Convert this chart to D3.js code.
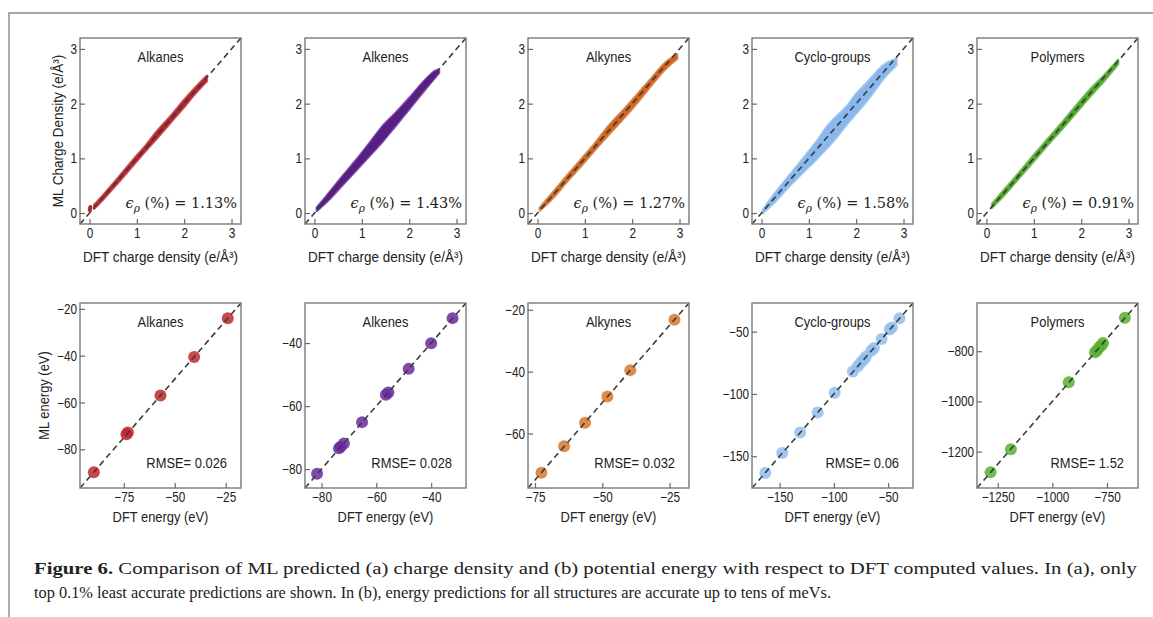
<!DOCTYPE html>
<html>
<head>
<meta charset="utf-8">
<script src="https://cdn.jsdelivr.net/npm/d3@7"></script>
<style>
    body { margin: 0; background: #fff; }
    svg text { font-family: "Liberation Sans Narrow", "Arial Narrow", "Liberation Sans", sans-serif; fill: #222; }
</style>
</head>
<body>
<svg id="my-svg"></svg>
<script>
// ---------------- data ----------------
const groups = ["Alkanes", "Alkenes", "Alkynes", "Cyclo-groups", "Polymers"];
const errorLabels = ["1.13%", "1.43%", "1.27%", "1.58%", "0.91%"];
const rmseLabels = ["0.026", "0.028", "0.032", "0.06", "1.52"];

const chargeTicks = [0, 1, 2, 3];
const chargeDomain = [-0.2, 3.2];

// charge density bands: [DFT, ML low, ML high]
const alkanesBand = [[0.10, 0.08, 0.15], [0.3, 0.26, 0.34], [0.6, 0.55, 0.64], [0.9, 0.85, 0.95], [1.2, 1.15, 1.25], [1.4, 1.34, 1.47], [1.7, 1.64, 1.76], [2.0, 1.94, 2.07], [2.2, 2.15, 2.26], [2.48, 2.41, 2.51]];
const alkenesBand = [[0.05, 0.04, 0.10], [0.3, 0.24, 0.36], [0.6, 0.52, 0.68], [0.9, 0.80, 0.99], [1.2, 1.08, 1.32], [1.45, 1.32, 1.60], [1.7, 1.58, 1.82], [2.0, 1.90, 2.10], [2.3, 2.22, 2.40], [2.55, 2.48, 2.60], [2.63, 2.56, 2.62]];
const alkynesBand = [[0.05, 0.05, 0.10], [0.3, 0.25, 0.35], [0.6, 0.55, 0.66], [0.9, 0.84, 0.96], [1.2, 1.14, 1.26], [1.5, 1.43, 1.59], [1.8, 1.71, 1.87], [2.1, 2.01, 2.16], [2.4, 2.33, 2.46], [2.7, 2.63, 2.75], [2.95, 2.82, 2.90]];
const cycloBand = [[0.03, 0.00, 0.06], [0.3, 0.22, 0.38], [0.6, 0.50, 0.70], [0.9, 0.76, 1.02], [1.2, 1.02, 1.35], [1.4, 1.20, 1.60], [1.6, 1.40, 1.78], [1.8, 1.62, 1.95], [2.0, 1.82, 2.18], [2.2, 2.02, 2.36], [2.4, 2.25, 2.55], [2.6, 2.48, 2.72], [2.85, 2.70, 2.82]];
const polymersBand = [[0.12, 0.10, 0.17], [0.4, 0.35, 0.45], [0.7, 0.65, 0.75], [1.0, 0.95, 1.06], [1.3, 1.25, 1.36], [1.6, 1.54, 1.66], [1.9, 1.84, 1.97], [2.2, 2.14, 2.27], [2.5, 2.43, 2.53], [2.78, 2.72, 2.80]];
const alkanesOutliers = [[0.01, 0.05], [0.01, 0.09], [0.02, 0.11]];

// energies (eV)
const alkanesDft = [-89.7, -73.7, -73.0, -57.0, -40.5, -24.0];
const alkanesMl = [-89.8, -73.5, -72.8, -57.0, -40.6, -24.0];
const alkenesDft = [-81.6, -73.6, -73.0, -71.8, -65.2, -56.5, -55.6, -48.2, -40.0, -32.2];
const alkenesMl = [-81.5, -73.4, -72.9, -71.9, -65.1, -56.4, -55.7, -48.2, -40.1, -32.1];
const alkynesDft = [-72.6, -64.2, -56.4, -48.1, -39.6, -23.2];
const alkynesMl = [-72.7, -64.1, -56.5, -48.0, -39.5, -23.2];
const cycloDft = [-163.2, -147.6, -131.0, -115.0, -99.2, -82.5, -78.0, -75.2, -72.5, -70.4, -65.5, -63.0, -56.0, -48.5, -46.5, -39.5];
const cycloMl = [-163.4, -147.4, -130.9, -114.9, -99.0, -82.0, -77.8, -75.0, -72.6, -70.2, -65.3, -63.2, -55.9, -48.2, -46.6, -39.3];
const polymersDft = [-1283, -1190, -925, -805, -796, -786, -776, -768, -668];
const polymersMl = [-1282, -1191, -924, -804, -797, -785, -777, -767, -667];

const energyDomains = [[-96.5, -17.5], [-86, -27.3], [-77.6, -17.8], [-175.5, -27], [-1345, -608]];
const energyTicksX = [[-75, -50, -25], [-80, -60, -40], [-75, -50, -25], [-150, -100, -50], [-1250, -1000, -750]];
const energyTicksY = [[-20, -40, -60, -80], [-40, -60, -80], [-20, -40, -60], [-50, -100, -150], [-800, -1000, -1200]];

const topColors = ["#b8232b", "#5b1a8e", "#d0661f", "#8ab8ec", "#4ea82a"];
const bottomColors = ["#c1272d", "#6b2aa0", "#d9782b", "#92bdee", "#56b030"];

const captionLine1 = "Comparison of ML predicted (a) charge density and (b) potential energy with respect to DFT computed values. In (a), only";
const captionLine2 = "top 0.1% least accurate predictions are shown. In (b), energy predictions for all structures are accurate up to tens of meVs.";

// ---------------- layout ----------------
const width = 1153, height = 617;
const panelLeft = [80, 305, 528, 752, 977];
const panelWidth = 161;
const topRow = { top: 38, height: 186 };
const bottomRow = { top: 303, height: 185 };
const narrowFactor = 0.86;

const bands = [alkanesBand, alkenesBand, alkynesBand, cycloBand, polymersBand];
const energyData = [
    [alkanesDft, alkanesMl], [alkenesDft, alkenesMl], [alkynesDft, alkynesMl],
    [cycloDft, cycloMl], [polymersDft, polymersMl]
];

const svg = d3.select("#my-svg")
    .attr("width", width)
    .attr("height", height)
    .style("display", "block");

svg.append("rect").attr("width", width).attr("height", height).attr("fill", "#fff");

// figure frame (top and left rules)
svg.append("path")
    .attr("d", `M9,${height} L9,13 L${width},13`)
    .attr("fill", "none")
    .attr("stroke", "#8a8a8a")
    .attr("stroke-width", 1.4);

// squeeze a sans text to look like the condensed face of the original
function narrow(sel, f) {
    sel.each(function () {
        const len = this.getComputedTextLength();
        d3.select(this)
            .attr("textLength", len * (f || narrowFactor))
            .attr("lengthAdjust", "spacingAndGlyphs");
    });
    return sel;
}

function drawAxes(g, x, y, xt, yt, h) {
    const fmt = d3.format("d");
    const ax = g.append("g")
        .attr("transform", `translate(0,${h})`)
        .call(d3.axisBottom(x).tickValues(xt).tickFormat(fmt).tickSizeInner(-5).tickSizeOuter(0).tickPadding(4));
    const ay = g.append("g")
        .call(d3.axisLeft(y).tickValues(yt).tickFormat(fmt).tickSizeInner(-5).tickSizeOuter(0).tickPadding(3));
    [ax, ay].forEach(a => {
        a.select(".domain").remove();
        a.selectAll("line").attr("stroke", "#6a6a6a").attr("stroke-width", 1.2);
        a.selectAll("text").style("font-size", "14px").attr("fill", "#222");
        narrow(a.selectAll("text"), 0.84);
    });
}

function drawBox(g, w, h) {
    g.append("rect")
        .attr("width", w)
        .attr("height", h)
        .attr("fill", "none")
        .attr("stroke", "#7a7a7a")
        .attr("stroke-width", 1.4);
}

function drawDiagonal(g, x, y, dom) {
    g.append("line")
        .attr("x1", x(dom[0])).attr("y1", y(dom[0]))
        .attr("x2", x(dom[1])).attr("y2", y(dom[1]))
        .attr("stroke", "#3c3c3c")
        .attr("stroke-width", 1.6)
        .attr("stroke-dasharray", "6,4");
}

// ---------------- top row: charge density ----------------
groups.forEach((name, i) => {
    const w = panelWidth, h = topRow.height;
    const g = svg.append("g").attr("transform", `translate(${panelLeft[i]},${topRow.top})`);
    const x = d3.scaleLinear().domain(chargeDomain).range([0, w]);
    const y = d3.scaleLinear().domain(chargeDomain).range([h, 0]);

    const area = d3.area()
        .x(d => x(d[0]))
        .y0(d => y(d[1]))
        .y1(d => y(d[2]))
        .curve(d3.curveCatmullRom);

    g.append("path")
        .datum(bands[i])
        .attr("d", area)
        .attr("fill", topColors[i])
        .attr("stroke", topColors[i])
        .attr("stroke-width", 2.5)
        .attr("stroke-linejoin", "round")
        .attr("stroke-opacity", 0.75);

    if (i === 0) {
        g.selectAll(".outlier")
            .data(alkanesOutliers)
            .enter().append("circle")
            .attr("cx", d => x(d[0]))
            .attr("cy", d => y(d[1]))
            .attr("r", 2)
            .attr("fill", topColors[i]);
    }

    drawDiagonal(g, x, y, chargeDomain);
    drawBox(g, w, h);
    drawAxes(g, x, y, chargeTicks, chargeTicks, h);

    narrow(g.append("text")
        .attr("x", w / 2).attr("y", 24)
        .attr("text-anchor", "middle")
        .style("font-size", "15px")
        .text(name));

    const eps = g.append("text")
        .attr("x", w - 4).attr("y", 170)
        .attr("text-anchor", "end")
        .style("font-family", "'DejaVu Serif', serif")
        .style("font-size", "14.5px");
    eps.append("tspan").style("font-style", "italic").text("ϵ");
    eps.append("tspan").attr("dy", 4).style("font-style", "italic").style("font-size", "10.5px").text("ρ");
    eps.append("tspan").attr("dy", -4).text(" (%) = " + errorLabels[i]);

    narrow(g.append("text")
        .attr("x", w / 2).attr("y", 262 - topRow.top)
        .attr("text-anchor", "middle")
        .style("font-size", "15px")
        .text("DFT charge density (e/Å³)"), 0.9);

    if (i === 0) {
        narrow(g.append("text")
            .attr("transform", `translate(${63 - panelLeft[0]},${h / 2}) rotate(-90)`)
            .attr("text-anchor", "middle")
            .style("font-size", "15px")
            .text("ML Charge Density (e/Å³)"), 0.9);
    }
});

// ---------------- bottom row: energies ----------------
groups.forEach((name, i) => {
    const w = panelWidth, h = bottomRow.height;
    const g = svg.append("g").attr("transform", `translate(${panelLeft[i]},${bottomRow.top})`);
    const dom = energyDomains[i];
    const x = d3.scaleLinear().domain(dom).range([0, w]);
    const y = d3.scaleLinear().domain(dom).range([h, 0]);
    const pts = energyData[i][0].map((d, k) => [d, energyData[i][1][k]]);

    g.selectAll(".pt")
        .data(pts)
        .enter().append("circle")
        .attr("cx", d => x(d[0]))
        .attr("cy", d => y(d[1]))
        .attr("r", 6)
        .attr("fill", bottomColors[i])
        .attr("fill-opacity", 0.85);

    drawDiagonal(g, x, y, dom);
    drawBox(g, w, h);
    drawAxes(g, x, y, energyTicksX[i], energyTicksY[i], h);

    narrow(g.append("text")
        .attr("x", w / 2).attr("y", 24)
        .attr("text-anchor", "middle")
        .style("font-size", "15px")
        .text(name));

    narrow(g.append("text")
        .attr("x", w - 14).attr("y", 165)
        .attr("text-anchor", "end")
        .style("font-size", "15px")
        .text("RMSE= " + rmseLabels[i]));

    narrow(g.append("text")
        .attr("x", w / 2).attr("y", 522 - bottomRow.top)
        .attr("text-anchor", "middle")
        .style("font-size", "15px")
        .text("DFT energy (eV)"));

    if (i === 0) {
        narrow(g.append("text")
            .attr("transform", `translate(${49 - panelLeft[0]},${h / 2}) rotate(-90)`)
            .attr("text-anchor", "middle")
            .style("font-size", "15px")
            .text("ML energy (eV)"));
    }
});

// ---------------- caption ----------------
const capFont = "'Liberation Serif', serif";
const cap1 = svg.append("text")
    .attr("x", 34).attr("y", 574)
    .attr("textLength", 1103)
    .attr("lengthAdjust", "spacingAndGlyphs")
    .style("font-family", capFont)
    .style("font-size", "17.5px")
    .attr("fill", "#222");
cap1.append("tspan").style("font-weight", "bold").text("Figure 6. ");
cap1.append("tspan").text(captionLine1);

svg.append("text")
    .attr("x", 34).attr("y", 598)
    .attr("textLength", 797)
    .attr("lengthAdjust", "spacingAndGlyphs")
    .style("font-family", capFont)
    .style("font-size", "17.5px")
    .attr("fill", "#222")
    .text(captionLine2);
</script>
</body>
</html>
